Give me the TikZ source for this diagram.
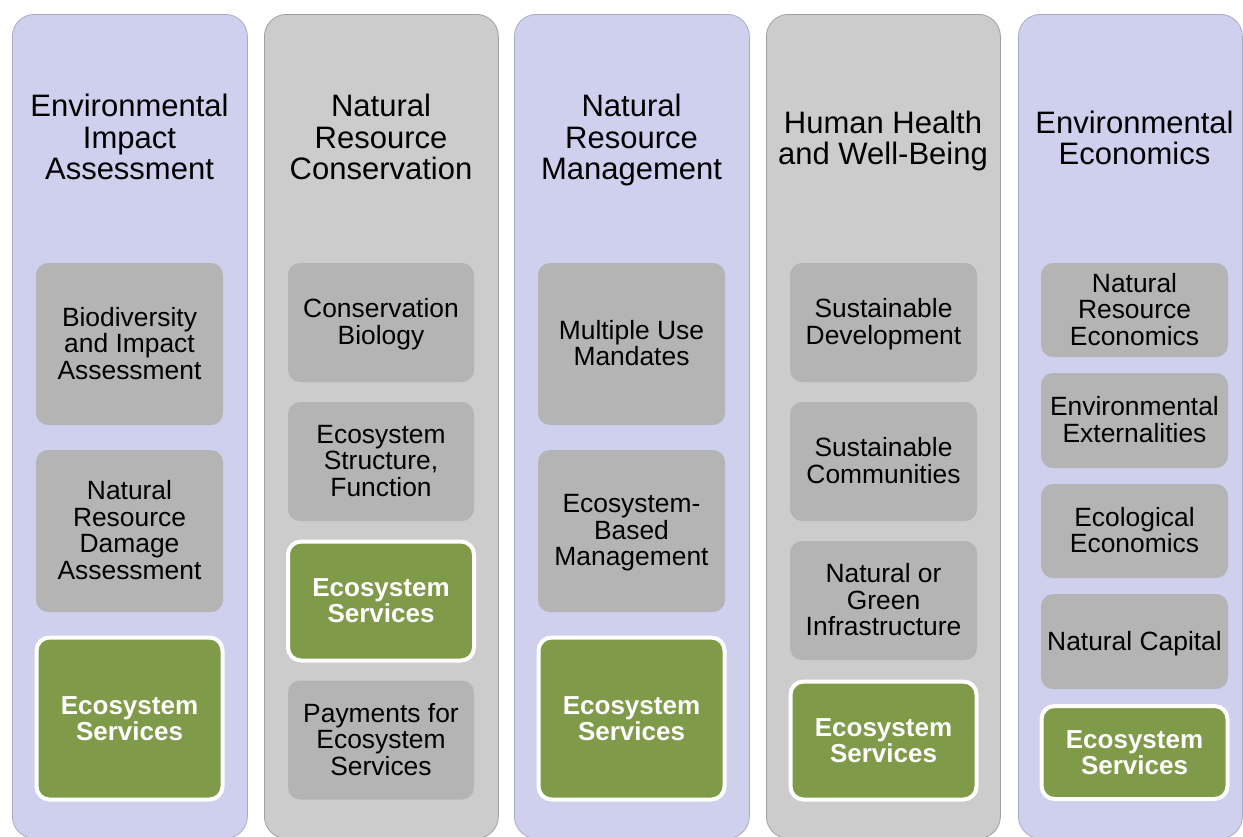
\documentclass[tikz,border=0pt]{standalone}
\usepackage{fontspec}
\setmainfont{Liberation Sans}
\definecolor{lav}{RGB}{207,207,238}
\definecolor{lavline}{RGB}{170,170,200}
\definecolor{colgray}{RGB}{204,204,204}
\definecolor{grayline}{RGB}{160,160,160}
\definecolor{boxgray}{RGB}{180,180,180}
\definecolor{olive}{RGB}{127,154,72}
\newcommand{\ttlstrut}{\rule[-13.6pt]{0pt}{13.6pt}}
\newcommand{\boxstrut}{\rule[-9.8pt]{0pt}{9.8pt}}
\tikzset{
  colL/.style={rectangle, rounded corners=22pt, fill=lav, draw=lavline, line width=0.8pt, anchor=north west, minimum height=824pt, inner sep=0pt},
  colG/.style={rectangle, rounded corners=22pt, fill=colgray, draw=grayline, line width=0.8pt, anchor=north west, minimum height=824pt, inner sep=0pt},
  ttl/.style={align=center, font=\fontsize{31}{31.5}\selectfont, text=black, inner sep=0pt,
    execute at end node=\ttlstrut},
  gbox/.style={rectangle, rounded corners=12pt, fill=boxgray, inner sep=0pt},
  gtxt/.style={align=center, inner sep=0pt, yshift=-4pt, font=\fontsize{26.4}{26.5}\selectfont, text=black,
    execute at end node=\boxstrut},
  ebox/.style={rectangle, rounded corners=13pt, fill=olive, draw=white, line width=4pt, minimum width=186pt, inner sep=0pt, align=center, font=\fontsize{26}{26}\selectfont\bfseries, text=white},
}
% #1 name, #2 centre, #3 width, #4 height, #5 text
\newcommand{\innerbox}[5]{%
  \node[gbox, minimum width=#3, minimum height=#4] (#1) at (#2) {};
  \node[gtxt] (#1t) at (#1) {#5};}
\begin{document}
\begin{tikzpicture}[x=1pt,y=-1pt]
\useasboundingbox (0,0) rectangle (1243,836);
\clip (0,0) rectangle (1243,836);
% columns
\node[colL, minimum width=235pt] (c1) at (12,14) {};
\node[colG, minimum width=234pt] (c2) at (264,14) {};
\node[colL, minimum width=235pt] (c3) at (514,14) {};
\node[colG, minimum width=234pt] (c4) at (766,14) {};
\node[colL, minimum width=224pt] (c5) at (1018,14) {};
% titles
\node[ttl] (t1) at (129.5,144) {Environmental\\Impact\\Assessment};
\node[ttl] (t2) at (381,144) {Natural\\Resource\\Conservation};
\node[ttl] (t3) at (631.5,144) {Natural\\Resource\\Management};
\node[ttl] (t4) at (883,144.5) {Human Health\\and Well-Being};
\node[ttl] (t5) at (1134.5,144.5) {Environmental\\Economics};
% column 1
\innerbox{b11}{129.5,344}{187pt}{162pt}{Biodiversity\\and Impact\\Assessment}
\innerbox{b12}{129.5,531}{187pt}{162pt}{Natural\\Resource\\Damage\\Assessment}
\node[ebox, minimum height=162pt] (e1) at (129.5,718.5) {Ecosystem\\Services};
% column 2
\innerbox{b21}{381,322.5}{186pt}{119pt}{Conservation\\Biology}
\innerbox{b22}{381,461.5}{186pt}{119pt}{Ecosystem\\Structure,\\Function}
\node[ebox, minimum height=119pt] (e2) at (381,601) {Ecosystem\\Services};
\innerbox{b24}{381,740}{186pt}{119pt}{Payments for\\Ecosystem\\Services}
% column 3
\innerbox{b31}{631.5,344}{187pt}{162pt}{Multiple Use\\Mandates}
\innerbox{b32}{631.5,531}{187pt}{162pt}{Ecosystem-\\Based\\Management}
\node[ebox, minimum height=162pt] (e3) at (631.5,718.5) {Ecosystem\\Services};
% column 4
\innerbox{b41}{883.5,322.5}{187pt}{119pt}{Sustainable\\Development}
\innerbox{b42}{883.5,461.5}{187pt}{119pt}{Sustainable\\Communities}
\innerbox{b43}{883.5,600.5}{187pt}{119pt}{Natural or\\Green\\Infrastructure}
\node[ebox, minimum height=118pt] (e4) at (883.5,740.5) {Ecosystem\\Services};
% column 5
\innerbox{b51}{1134.5,310}{187pt}{94pt}{Natural\\Resource\\Economics}
\innerbox{b52}{1134.5,420.5}{187pt}{95pt}{Environmental\\Externalities}
\innerbox{b53}{1134.5,531}{187pt}{94pt}{Ecological\\Economics}
\innerbox{b54}{1134.5,641.5}{187pt}{95pt}{Natural Capital}
\node[ebox, minimum height=93pt] (e5) at (1134.5,752.5) {Ecosystem\\Services};
\end{tikzpicture}
\end{document}
